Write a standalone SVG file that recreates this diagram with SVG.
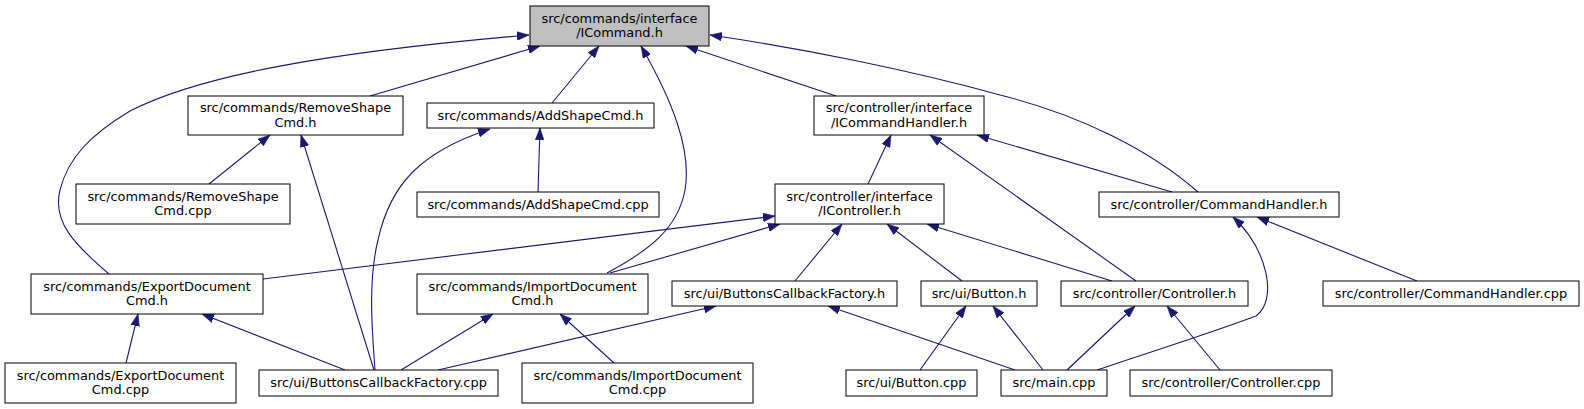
<svg xmlns="http://www.w3.org/2000/svg" width="1584" height="409" viewBox="0 0 1584 409">
<style>
.n rect{fill:#ffffff;stroke:#000000;stroke-width:1}
.root rect{fill:#bfbfbf}
.n text{font-family:"DejaVu Sans","Liberation Sans",sans-serif;font-size:12.9px;fill:#000000;text-anchor:middle}
.e path{fill:none;stroke:#191970;stroke-width:1.1;marker-end:url(#ah)}
</style>
<defs>
<marker id="ah" markerUnits="userSpaceOnUse" markerWidth="12" markerHeight="9" viewBox="0 0 11 8" refX="11" refY="4" orient="auto">
<path d="M0,0 L11,4 L0,8 Z" fill="#191970" stroke="#191970" stroke-width="0.5"/>
</marker>
</defs>
<rect width="1584" height="409" fill="#ffffff"/>
<g id="edges" class="e">
<path d="M109,274 C75,245 52,222 60,190 C68,158 90,135 130,111 C200,75 330,52 529,35"/>
<path d="M370,96 L540,46"/>
<path d="M552,103 L599,46"/>
<path d="M607,273 C650,250 678,228 685,190 C692,150 672,100 641,46"/>
<path d="M836,96 L686,46"/>
<path d="M1198,192 C1150,150 1080,115 1000,95 C910,70 800,48 710,35"/>
<path d="M209,184 L270,135"/>
<path d="M374,370 L301,135"/>
<path d="M538,192 L540,128"/>
<path d="M375,370 C372,330 368,280 378,240 C390,185 420,152 490,129"/>
<path d="M868,184 L891,135"/>
<path d="M1136,281 L930,135"/>
<path d="M1172,192 L977,135"/>
<path d="M263,279 L775,216"/>
<path d="M610,273 L780,224"/>
<path d="M795,281 L842,224"/>
<path d="M962,281 L887,224"/>
<path d="M1112,281 L927,224"/>
<path d="M1097,370 C1150,352 1205,335 1256,316 C1278,300 1268,250 1233,217"/>
<path d="M1417,281 L1257,217"/>
<path d="M126,363 L138,314"/>
<path d="M345,370 L202,314"/>
<path d="M401,370 L493,314"/>
<path d="M614,363 L560,314"/>
<path d="M438,370 L716,306"/>
<path d="M1015,370 L828,306"/>
<path d="M920,370 L966,306"/>
<path d="M1043,370 L993,306"/>
<path d="M1067,370 L1135,306"/>
<path d="M1220,370 L1167,306"/>
</g>
<g id="node-ICommand" class="n root"><rect x="530" y="6" width="179" height="40"/><text x="619.5" y="22.5">src/commands/interface</text><text x="619.5" y="37">/ICommand.h</text></g>
<g id="node-RemoveShapeCmdH" class="n"><rect x="188" y="96" width="215" height="39"/><text x="295.5" y="112">src/commands/RemoveShape</text><text x="295.5" y="126.5">Cmd.h</text></g>
<g id="node-AddShapeCmdH" class="n"><rect x="427" y="103" width="227" height="25"/><text x="540.5" y="119.5">src/commands/AddShapeCmd.h</text></g>
<g id="node-ICommandHandler" class="n"><rect x="814" y="96" width="170" height="39"/><text x="899" y="112">src/controller/interface</text><text x="899" y="126.5">/ICommandHandler.h</text></g>
<g id="node-RemoveShapeCmdCpp" class="n"><rect x="76" y="184" width="214" height="40"/><text x="183" y="200.5">src/commands/RemoveShape</text><text x="183" y="215">Cmd.cpp</text></g>
<g id="node-AddShapeCmdCpp" class="n"><rect x="417" y="192" width="242" height="25"/><text x="538" y="208.5">src/commands/AddShapeCmd.cpp</text></g>
<g id="node-IController" class="n"><rect x="775" y="184" width="169" height="40"/><text x="859.5" y="200.5">src/controller/interface</text><text x="859.5" y="215">/IController.h</text></g>
<g id="node-CommandHandlerH" class="n"><rect x="1099" y="192" width="240" height="25"/><text x="1219" y="208.5">src/controller/CommandHandler.h</text></g>
<g id="node-ExportDocumentCmdH" class="n"><rect x="31" y="274" width="232" height="40"/><text x="147" y="290.5">src/commands/ExportDocument</text><text x="147" y="305">Cmd.h</text></g>
<g id="node-ImportDocumentCmdH" class="n"><rect x="417" y="274" width="231" height="40"/><text x="532.5" y="290.5">src/commands/ImportDocument</text><text x="532.5" y="305">Cmd.h</text></g>
<g id="node-ButtonsCallbackFactoryH" class="n"><rect x="672" y="281" width="225" height="25"/><text x="784.5" y="297.5">src/ui/ButtonsCallbackFactory.h</text></g>
<g id="node-ButtonH" class="n"><rect x="921" y="281" width="116" height="25"/><text x="979" y="297.5">src/ui/Button.h</text></g>
<g id="node-ControllerH" class="n"><rect x="1061" y="281" width="187" height="25"/><text x="1154.5" y="297.5">src/controller/Controller.h</text></g>
<g id="node-CommandHandlerCpp" class="n"><rect x="1323" y="281" width="256" height="25"/><text x="1451" y="297.5">src/controller/CommandHandler.cpp</text></g>
<g id="node-ExportDocumentCmdCpp" class="n"><rect x="5" y="363" width="231" height="40"/><text x="120.5" y="379.5">src/commands/ExportDocument</text><text x="120.5" y="394">Cmd.cpp</text></g>
<g id="node-ButtonsCallbackFactoryCpp" class="n"><rect x="259" y="370" width="239" height="26"/><text x="378.5" y="387">src/ui/ButtonsCallbackFactory.cpp</text></g>
<g id="node-ImportDocumentCmdCpp" class="n"><rect x="522" y="363" width="231" height="40"/><text x="637.5" y="379.5">src/commands/ImportDocument</text><text x="637.5" y="394">Cmd.cpp</text></g>
<g id="node-ButtonCpp" class="n"><rect x="846" y="370" width="131" height="26"/><text x="911.5" y="387">src/ui/Button.cpp</text></g>
<g id="node-mainCpp" class="n"><rect x="1001" y="370" width="106" height="26"/><text x="1054" y="387">src/main.cpp</text></g>
<g id="node-ControllerCpp" class="n"><rect x="1130" y="370" width="202" height="26"/><text x="1231" y="387">src/controller/Controller.cpp</text></g>
</svg>
